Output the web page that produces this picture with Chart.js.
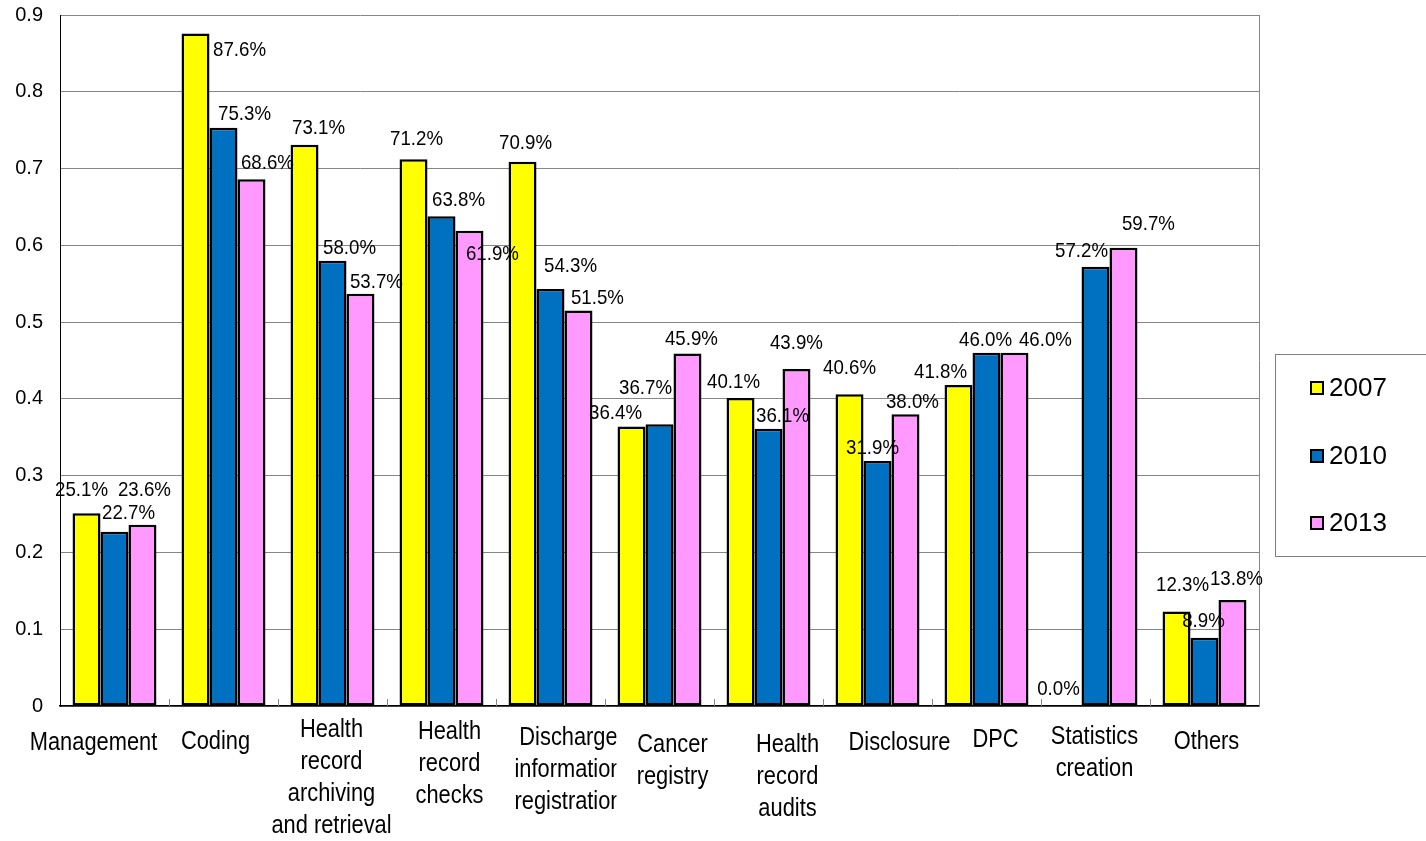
<!DOCTYPE html>
<html>
<head>
<meta charset="utf-8">
<script src="https://cdn.jsdelivr.net/npm/chart.js@4.4.1/dist/chart.umd.min.js"></script>
<style>
  html, body { margin: 0; padding: 0; background: #fff; }
  #wrap { width: 1426px; height: 841px; position: relative; }
</style>
</head>
<body>
<div id="wrap"><canvas id="c"></canvas></div>
<script>
// Work areas, one entry per group of bars (multi-line labels are arrays)
const categories = [
  ["Management"],
  ["Coding"],
  ["Health", "record", "archiving", "and retrieval"],
  ["Health", "record", "checks"],
  ["Discharge", "information", "registration"],
  ["Cancer", "registry"],
  ["Health", "record", "audits"],
  ["Disclosure"],
  ["DPC"],
  ["Statistics", "creation"],
  ["Others"]
];
const years = ["2007", "2010", "2013"];

// Share of respondents per survey year
const share2007 = [0.251, 0.876, 0.731, 0.712, 0.709, 0.364, 0.401, 0.406, 0.418, 0.000, 0.123];
const share2010 = [0.227, 0.753, 0.580, 0.638, 0.543, 0.367, 0.361, 0.319, 0.460, 0.572, 0.089];
const share2013 = [0.236, 0.686, 0.537, 0.619, 0.515, 0.459, 0.439, 0.380, 0.460, 0.597, 0.138];

const yTickLabels = ["0", "0.1", "0.2", "0.3", "0.4", "0.5", "0.6", "0.7", "0.8", "0.9"];

// Bar colours per year
const barColors = ["#FFFF00", "#0070C0", "#FF99FF"];

// Hand-placed value labels: pixel shift of each label centre from its bar's top centre
const labelShift = [
  [[-5, -24], [44, 16], [14, -18], [3, -21], [3, -19], [-16, -14], [-7, -17], [0, -27], [-18, -14], [-9, -18], [6, -27]],
  [[14, -20], [21, -15], [17, -13], [17, -17], [20, -24], [-14, -37], [14, -14], [-5, -14], [-1, -14], [-14, -17], [-1, -17]],
  [[2, -36], [16, -17], [16, -13], [23, 22], [19, -13], [4, -15], [0, -27], [7, -13], [31, -14], [25, -24], [4, -22]]
];

// Hand-placed category labels: horizontal shift from the group centre, first-line centre height,
// and (where the text box is cut off) the right clip edge measured from the label centre
const catLabelDx = [-21, -8, -1, 8, 18, 13, 19, 22, 9, -1, 2];
const catLabelY  = [743, 742, 730, 732, 738, 745, 745, 743, 740, 737, 742];
const catLabelClipRight = [null, null, null, null, 48, null, null, null, null, null, null];

const FONT = "'Liberation Sans', Arial, sans-serif";

// Draws text squeezed horizontally, giving a condensed face
function narrowText(ctx, text, x, y, squeeze) {
  ctx.save();
  ctx.translate(x, y);
  ctx.scale(squeeze, 1);
  ctx.fillText(text, 0, 0);
  ctx.restore();
}

// Plot frame, short category ticks along the base, value labels, category labels, legend
const framePlugin = {
  id: 'frame',
  beforeDatasetsDraw(chart) {
    const { ctx, chartArea: a } = chart;
    ctx.save();
    ctx.strokeStyle = '#868686';
    ctx.lineWidth = 1;
    ctx.beginPath();
    ctx.moveTo(Math.round(a.right) + 0.5, a.top);
    ctx.lineTo(Math.round(a.right) + 0.5, a.bottom);
    ctx.stroke();
    const n = categories.length;
    const w = (a.right - a.left) / n;
    ctx.beginPath();
    for (let i = 1; i < n; i++) {
      const x = Math.round(a.left + i * w) + 0.5;
      ctx.moveTo(x, a.bottom);
      ctx.lineTo(x, a.bottom - 7);
    }
    ctx.stroke();
    ctx.restore();
  },
  afterDatasetsDraw(chart) {
    const { ctx } = chart;
    ctx.save();
    ctx.font = "21px " + FONT;
    ctx.fillStyle = '#000';
    ctx.textAlign = 'center';
    ctx.textBaseline = 'middle';
    chart.data.datasets.forEach((ds, di) => {
      const meta = chart.getDatasetMeta(di);
      meta.data.forEach((bar, i) => {
        const v = ds.data[i];
        const [dx, dy] = labelShift[di][i];
        narrowText(ctx, (v * 100).toFixed(1) + '%', bar.x + dx, bar.y + dy + 1, 0.89);
      });
    });
    ctx.restore();
  },
  afterDraw(chart) {
    const { ctx } = chart;
    const xs = chart.scales.x;

    // Category labels under the axis
    ctx.save();
    ctx.font = "26px " + FONT;
    ctx.fillStyle = '#000';
    ctx.textAlign = 'center';
    ctx.textBaseline = 'middle';
    categories.forEach((lines, i) => {
      const cx = xs.getPixelForValue(i) + catLabelDx[i];
      ctx.save();
      if (catLabelClipRight[i] !== null) {
        ctx.beginPath();
        ctx.rect(cx - 200, xs.top, 200 + catLabelClipRight[i], chart.height - xs.top);
        ctx.clip();
      }
      lines.forEach((line, k) => {
        narrowText(ctx, line, cx, catLabelY[i] + k * 32, 0.84);
      });
      ctx.restore();
    });
    ctx.restore();

    // Boxed legend on the right
    ctx.save();
    ctx.strokeStyle = '#808080';
    ctx.lineWidth = 1;
    ctx.strokeRect(1275.5, 354.5, 170, 202);
    const rows = [388, 456, 523];
    ctx.font = "26px " + FONT;
    ctx.textBaseline = 'middle';
    ctx.textAlign = 'left';
    chart.data.datasets.forEach((ds, di) => {
      const y = rows[di];
      ctx.fillStyle = ds.backgroundColor;
      ctx.fillRect(1311, y - 6, 12, 12);
      ctx.strokeStyle = '#000';
      ctx.lineWidth = 2;
      ctx.strokeRect(1311, y - 6, 12, 12);
      ctx.fillStyle = '#000';
      ctx.fillText(ds.label, 1329, y + 1);
    });
    ctx.restore();
  }
};

const datasets = [share2007, share2010, share2013].map((values, di) => ({
  label: years[di],
  data: values,
  backgroundColor: barColors[di],
  borderColor: '#000',
  borderWidth: ctx => (ctx.raw === 0 ? 0 : 2.5),
  borderSkipped: false,
  barPercentage: 1.0,
  categoryPercentage: 0.77
}));

new Chart(document.getElementById('c'), {
  type: 'bar',
  data: { labels: categories, datasets },
  options: {
    responsive: true,
    maintainAspectRatio: false,
    animation: false,
    events: [],
    layout: { padding: { left: 0, right: 167, top: 15, bottom: 0 } },
    plugins: { legend: { display: false }, tooltip: { enabled: false } },
    scales: {
      x: {
        grid: { display: false, drawTicks: false },
        border: { display: true, color: '#000', width: 1.5 },
        ticks: { display: false },
        afterFit(scale) { scale.height = 135; }
      },
      y: {
        min: 0,
        max: 0.9,
        grid: { color: '#868686', lineWidth: 1, drawTicks: false },
        border: { display: true, color: '#000', width: 1 },
        ticks: {
          stepSize: 0.1,
          padding: 17,
          color: '#000',
          font: { family: FONT, size: 20 },
          callback: (value, index) => yTickLabels[index]
        },
        afterFit(scale) {
          scale.width = 60;
          scale.paddingTop = 0;
          scale.paddingBottom = 0;
        }
      }
    }
  },
  plugins: [framePlugin]
});
</script>
</body>
</html>
